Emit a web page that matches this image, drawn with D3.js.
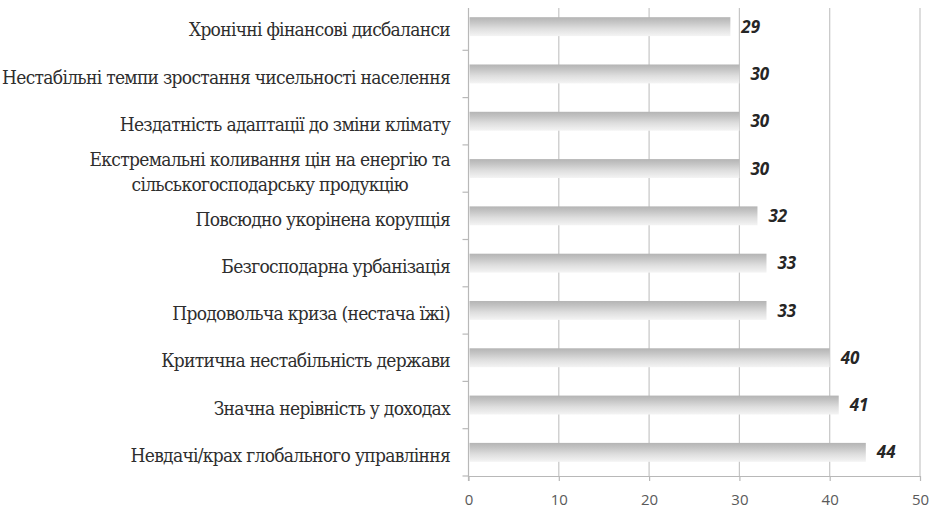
<!DOCTYPE html>
<meta charset="utf-8">
<style>
body { margin: 0; background: #fff; }
#box1 { width: 930px; height: 511px; }
</style>
<body>
  <div id="box1"></div>
</body>
<script src="https://d3js.org/d3.v7.min.js"></script>
<script>

// categories top to bottom, multi-line labels split with "\n"
var categories = [
  "Хронічні фінансові дисбаланси",
  "Нестабільні темпи зростання чисельності населення",
  "Нездатність адаптації до зміни клімату",
  "Екстремальні коливання цін на енергію та\nсільськогосподарську продукцію",
  "Повсюдно укорінена корупція",
  "Безгосподарна урбанізація",
  "Продовольча криза (нестача їжі)",
  "Критична нестабільність держави",
  "Значна нерівність у доходах",
  "Невдачі/крах глобального управління"
]
var values = [29, 30, 30, 30, 32, 33, 33, 40, 41, 44]
var xTicks = [0, 10, 20, 30, 40, 50]

var width = 930, height = 511
var margin = {top: 3, right: 10, bottom: 35, left: 468.5}

var data = categories.map((c, i) => ({cat: c, value: values[i]}))

var xScale = d3.scaleLinear([0, 50], [margin.left, 920])
var yScale = d3.scaleBand(categories, [margin.top, height - margin.bottom])
  .paddingInner(0.6)
  .paddingOuter(0.3)

var svg = d3.select("#box1").append("svg")
  .attr("width", width)
  .attr("height", height)

// gradient for the cylinder look
var grad = svg.append("defs").append("linearGradient")
  .attr("id", "barGrad")
  .attr("x1", 0).attr("y1", 0).attr("x2", 0).attr("y2", 1)
grad.append("stop").attr("offset", "0%").attr("stop-color", "#b4b4b4")
grad.append("stop").attr("offset", "25%").attr("stop-color", "#c4c4c4")
grad.append("stop").attr("offset", "60%").attr("stop-color", "#dedede")
grad.append("stop").attr("offset", "100%").attr("stop-color", "#f4f4f4")

var plotBottom = height - margin.bottom

// gridlines
svg.append("g")
  .selectAll("line")
  .data(xTicks.slice(1))
  .join("line")
    .attr("x1", d => xScale(d)).attr("x2", d => xScale(d))
    .attr("y1", 8).attr("y2", plotBottom)
    .style("stroke", "#c6c6c6")
    .style("stroke-width", 1.2)

// left axis line with category ticks
svg.append("line")
  .attr("x1", xScale(0)).attr("x2", xScale(0))
  .attr("y1", 8).attr("y2", plotBottom + 5)
  .style("stroke", "#b8b8b8").style("stroke-width", 1.2)

var step = yScale.step()
svg.append("g")
  .selectAll("line")
  .data(categories)
  .join("line")
    .attr("x1", xScale(0) - 6).attr("x2", xScale(0))
    .attr("y1", d => yScale(d) + yScale.bandwidth() / 2 + step / 2)
    .attr("y2", d => yScale(d) + yScale.bandwidth() / 2 + step / 2)
    .style("stroke", "#b8b8b8").style("stroke-width", 1.2)

// bottom axis
var xAxis = d3.axisBottom(xScale)
  .tickValues(xTicks)
  .tickSize(5)
  .tickSizeOuter(0)
  .tickPadding(13)

var ax = svg.append("g")
  .attr("transform", "translate(0," + plotBottom + ")")
  .call(xAxis)
ax.select(".domain").style("stroke", "#b8b8b8").style("stroke-width", 1.2)
ax.selectAll(".tick line").style("stroke", "#b8b8b8").style("stroke-width", 1.2)
ax.selectAll("text")
  .style("font-family", "'Open Sans'")
  .style("font-size", "15px")
  .style("fill", "#5a5a5a")

// bars
svg.append("g")
  .selectAll("rect")
  .data(data)
  .join("rect")
    .attr("x", xScale(0) + 1)
    .attr("y", d => yScale(d.cat))
    .attr("width", d => xScale(d.value) - xScale(0) - 1)
    .attr("height", yScale.bandwidth())
    .style("fill", "url(#barGrad)")

// value labels
svg.append("g")
  .selectAll("text")
  .data(data)
  .join("text")
    .attr("x", d => xScale(d.value) + 11)
    .attr("y", d => yScale(d.cat) + yScale.bandwidth() / 2)
    .attr("dy", "0.36em")
    .text(d => d.value)
    .style("font-family", "'Open Sans'")
    .style("font-weight", "bold")
    .style("font-style", "italic")
    .style("font-size", "17px")
    .style("fill", "#262626")

// category labels
var labelRight = 450
var lineH = 25
var labels = svg.append("g")
  .selectAll("text")
  .data(data)
  .join("text")
    .attr("font-family", "'DejaVu Serif Condensed', 'DejaVu Serif', serif")
    .attr("font-stretch", "condensed")
    .attr("font-size", "19px")
    .attr("letter-spacing", "-0.7px")
    .attr("fill", "#2e2e2e")

labels.each(function(d) {
  var lines = d.cat.split("\n")
  var cy = yScale(d.cat) + yScale.bandwidth() / 2 + 3
  var t = d3.select(this)
  var spans = lines.map((l, i) => t.append("tspan")
    .attr("y", cy + (i - (lines.length - 1) / 2) * lineH)
    .attr("dy", "0.35em")
    .text(l))
  // right-align the block, centre the lines inside it
  var widths = spans.map(s => s.node().getComputedTextLength())
  var maxW = d3.max(widths)
  spans.forEach(s => {
    s.attr("x", labelRight - maxW / 2).attr("text-anchor", "middle")
  })
})

</script>
